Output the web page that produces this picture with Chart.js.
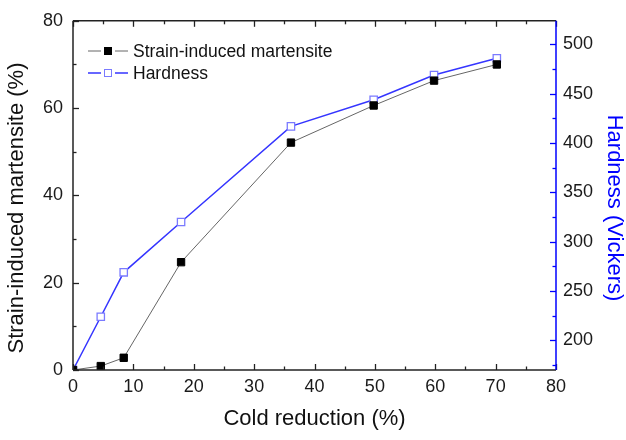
<!DOCTYPE html>
<html>
<head>
<meta charset="utf-8">
<script src="https://cdn.jsdelivr.net/npm/chart.js@4"></script>
<style>
  html, body { margin: 0; padding: 0; background: #fff; }
  #wrap { width: 626px; height: 440px; }
</style>
</head>
<body>
<div id="wrap"><canvas id="chart" width="626" height="440"></canvas></div>
<script>
// values
const coldReduction = [0, 4.6, 8.4, 17.9, 36.1, 49.8, 59.8, 70.2];
const martensite = [0, 0.9, 2.8, 24.7, 52.1, 60.6, 66.3, 70.0];
const hardness = [170, 224, 269, 320, 417, 444, 469, 486];
const hardnessTicks = [200, 250, 300, 350, 400, 450, 500];

const FONT = '"Liberation Sans", Arial, sans-serif';
const BLUE = '#0000ff';

const toPoints = (ys) => coldReduction.map((x, i) => ({ x, y: ys[i] }));

// Origin style frame: inward major/minor ticks, top border, titles, legend
const framePlugin = {
  id: 'frame',
  afterDraw(chart) {
    const { ctx, chartArea: a, scales } = chart;
    const { x, y, y1 } = scales;
    ctx.save();

    const tick = (x0, y0, x1, y1, color, w) => {
      ctx.strokeStyle = color;
      ctx.lineWidth = w;
      ctx.beginPath();
      ctx.moveTo(x0, y0);
      ctx.lineTo(x1, y1);
      ctx.stroke();
    };

    // x ticks bottom + top
    for (let v = 0; v <= 80; v += 5) {
      const px = Math.round(x.getPixelForValue(v)) + 0.5;
      const len = v % 10 === 0 ? 6 : 3.5;
      tick(px, a.bottom, px, a.bottom - len, '#222', 1.3);
      tick(px, a.top, px, a.top + len, '#222', 1.3);
    }
    // left ticks
    for (let v = 0; v <= 80; v += 10) {
      const py = Math.round(y.getPixelForValue(v)) + 0.5;
      const len = v % 20 === 0 ? 6 : 3.5;
      tick(a.left, py, a.left + len, py, '#222', 1.3);
    }
    // right ticks
    for (let v = 175; v <= 524; v += 25) {
      const py = Math.round(y1.getPixelForValue(v)) + 0.5;
      const len = v % 50 === 0 ? 6 : 3.5;
      tick(a.right, py, a.right - len, py, BLUE, 1.3);
    }

    // frame lines
    tick(a.left, a.top, a.right, a.top, '#222', 1.5);
    tick(a.left, a.bottom, a.right, a.bottom, '#222', 1.5);
    tick(a.left, a.top, a.left, a.bottom, '#222', 1.5);
    tick(a.right, a.top, a.right, a.bottom, BLUE, 1.5);

    // axis titles
    ctx.font = '22px ' + FONT;
    ctx.textAlign = 'center';
    ctx.textBaseline = 'middle';
    ctx.fillStyle = '#111';
    ctx.fillText('Cold reduction (%)', (a.left + a.right) / 2, 419);

    ctx.save();
    ctx.translate(17, 208);
    ctx.rotate(-Math.PI / 2);
    ctx.fillText('Strain-induced martensite (%)', 0, 0);
    ctx.restore();

    ctx.save();
    ctx.translate(614, 208);
    ctx.rotate(Math.PI / 2);
    ctx.fillStyle = BLUE;
    ctx.fillText('Hardness (Vickers)', 0, 0);
    ctx.restore();

    // legend
    ctx.font = '17.5px ' + FONT;
    ctx.textAlign = 'left';
    chart.data.datasets.forEach((ds, i) => {
      const ly = 51 + i * 22;
      tick(88, ly, 101, ly, ds.borderColor, ds.borderWidth);
      tick(115, ly, 128, ly, ds.borderColor, ds.borderWidth);
      ctx.fillStyle = ds.pointBackgroundColor;
      ctx.fillRect(104.5, ly - 3.5, 7, 7);
      ctx.strokeStyle = ds.pointBorderColor;
      ctx.lineWidth = 1;
      ctx.strokeRect(104.5, ly - 3.5, 7, 7);
      ctx.fillStyle = '#111';
      ctx.fillText(ds.label, 133, ly + 1);
    });

    ctx.restore();
  }
};

const tickFont = { family: FONT, size: 18 };
const noGrid = { display: false, drawTicks: false };

new Chart(document.getElementById('chart'), {
  type: 'line',
  data: {
    datasets: [
      {
        label: 'Strain-induced martensite',
        data: toPoints(martensite),
        yAxisID: 'y',
        borderColor: '#666666',
        borderWidth: 1,
        pointStyle: 'rect',
        pointRadius: 5.2,
        pointBackgroundColor: '#000000',
        pointBorderColor: '#000000',
        pointBorderWidth: 1
      },
      {
        label: 'Hardness',
        data: toPoints(hardness),
        yAxisID: 'y1',
        borderColor: '#3535ff',
        borderWidth: 1.5,
        pointStyle: 'rect',
        pointRadius: 5.2,
        pointBackgroundColor: '#ffffff',
        pointBorderColor: '#7a7aff',
        pointBorderWidth: 1.3
      }
    ]
  },
  options: {
    responsive: false,
    animation: false,
    layout: { padding: { top: 16, left: 0, right: 0, bottom: 0 } },
    plugins: { legend: { display: false }, tooltip: { enabled: false } },
    scales: {
      x: {
        type: 'linear',
        min: 0,
        max: 80,
        ticks: { stepSize: 10, font: tickFont, color: '#1a1a1a', padding: 6, maxRotation: 0 },
        grid: noGrid,
        border: { display: false },
        afterFit: (s) => { s.height = 70; }
      },
      y: {
        position: 'left',
        min: 0,
        max: 80,
        ticks: { stepSize: 20, font: tickFont, color: '#1a1a1a', padding: 10 },
        grid: noGrid,
        border: { display: false },
        afterFit: (s) => { s.width = 73; }
      },
      y1: {
        position: 'right',
        min: 170,
        max: 524,
        ticks: { font: tickFont, color: '#1a1a1a', padding: 7 },
        grid: noGrid,
        border: { display: false },
        afterBuildTicks: (s) => { s.ticks = hardnessTicks.map(v => ({ value: v })); },
        afterFit: (s) => { s.width = 70; }
      }
    }
  },
  plugins: [framePlugin]
});
</script>
</body>
</html>
